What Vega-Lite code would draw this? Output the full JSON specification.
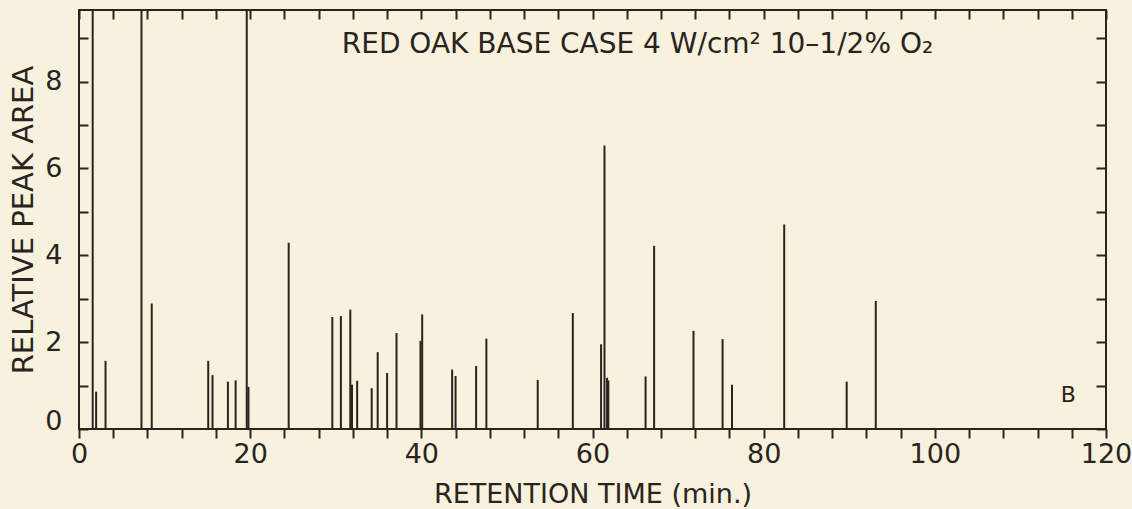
{
  "$schema": "https://vega.github.io/schema/vega-lite/v6.json",
  "width": 1027,
  "height": 419,
  "autosize": "none",
  "padding": {"left": 79, "top": 10, "right": 26, "bottom": 80},
  "background": "#f6f2dd",
  "config": {
    "font": "DejaVu Sans",
    "view": {"stroke": "#2a2320", "strokeWidth": 2},
    "axis": {
      "grid": false,
      "domain": false,
      "tickColor": "#2a2320",
      "tickWidth": 2,
      "labelColor": "#2a2320",
      "titleColor": "#2a2320",
      "titleFontWeight": "normal",
      "labelFont": "DejaVu Sans",
      "titleFont": "DejaVu Sans",
      "labelFontSize": 27,
      "titleFontSize": 27
    }
  },
  "layer": [
    {
      "data": {
        "values": [
          {"t": 1.6, "h": 12},
          {"t": 2.0, "h": 0.86},
          {"t": 3.1, "h": 1.57},
          {"t": 7.3, "h": 12},
          {"t": 8.5, "h": 2.89},
          {"t": 15.1, "h": 1.57},
          {"t": 15.6, "h": 1.24},
          {"t": 17.4, "h": 1.09},
          {"t": 18.3, "h": 1.12},
          {"t": 19.6, "h": 12},
          {"t": 19.8, "h": 0.97},
          {"t": 24.5, "h": 4.29},
          {"t": 29.6, "h": 2.58},
          {"t": 30.6, "h": 2.6},
          {"t": 31.7, "h": 2.75},
          {"t": 31.9, "h": 1.02},
          {"t": 32.5, "h": 1.11},
          {"t": 34.2, "h": 0.94},
          {"t": 34.9, "h": 1.77},
          {"t": 36.0, "h": 1.29},
          {"t": 37.1, "h": 2.21},
          {"t": 39.9, "h": 2.03},
          {"t": 40.1, "h": 2.64},
          {"t": 43.6, "h": 1.37},
          {"t": 44.0, "h": 1.22},
          {"t": 46.4, "h": 1.45},
          {"t": 47.6, "h": 2.08},
          {"t": 53.6, "h": 1.13},
          {"t": 57.7, "h": 2.67},
          {"t": 61.0, "h": 1.95},
          {"t": 61.4, "h": 6.53},
          {"t": 61.7, "h": 1.18},
          {"t": 61.85, "h": 1.12},
          {"t": 66.2, "h": 1.21},
          {"t": 67.2, "h": 4.22},
          {"t": 71.8, "h": 2.26},
          {"t": 75.2, "h": 2.07},
          {"t": 76.3, "h": 1.02},
          {"t": 82.4, "h": 4.71},
          {"t": 89.7, "h": 1.09},
          {"t": 93.1, "h": 2.95}
        ]
      },
      "mark": {"type": "rule", "strokeWidth": 2, "color": "#2a2320"},
      "encoding": {
        "x": {
          "field": "t",
          "type": "quantitative",
          "scale": {"domain": [0, 120], "nice": false, "zero": false},
          "axis": {
            "orient": "bottom",
            "values": [0, 4, 8, 12, 16, 20, 24, 28, 32, 36, 40, 44, 48, 52, 56, 60, 64, 68, 72, 76, 80, 84, 88, 92, 96, 100, 104, 108, 112, 116, 120],
            "labelExpr": "datum.value % 20 == 0 ? datum.label : ''",
            "tickSize": 9,
            "labelPadding": 3,
            "labelFlush": false,
            "labelOverlap": false,
            "title": "RETENTION TIME (min.)",
            "titlePadding": 14
          }
        },
        "y": {
          "field": "h",
          "type": "quantitative",
          "scale": {"domain": [0, 9.65], "nice": false, "clamp": true},
          "axis": {
            "orient": "left",
            "values": [0, 1, 2, 3, 4, 5, 6, 7, 8, 9],
            "labelExpr": "datum.value % 2 == 0 ? datum.label : ''",
            "tickSize": -9,
            "labelPadding": 26,
            "labelFlush": true,
            "labelFlushOffset": 6,
            "labelOverlap": false,
            "title": "RELATIVE PEAK AREA",
            "titleFontSize": 29,
            "titlePadding": 6
          }
        },
        "y2": {"datum": 0}
      }
    },
    {
      "data": {"values": [{"t": 30.7, "v": 8.66, "s": "RED OAK BASE CASE 4 W/cm² 10–1/2% O₂"}]},
      "mark": {"type": "text", "align": "left", "baseline": "alphabetic", "fontSize": 28, "color": "#2a2320", "font": "DejaVu Sans"},
      "encoding": {
        "x": {
          "field": "t",
          "type": "quantitative",
          "axis": {
            "orient": "top",
            "values": [0, 4, 8, 12, 16, 20, 24, 28, 32, 36, 40, 44, 48, 52, 56, 60, 64, 68, 72, 76, 80, 84, 88, 92, 96, 100, 104, 108, 112, 116, 120],
            "labels": false,
            "tickSize": -9,
            "title": null
          }
        },
        "y": {
          "field": "v",
          "type": "quantitative",
          "axis": {
            "orient": "right",
            "values": [0, 1, 2, 3, 4, 5, 6, 7, 8, 9],
            "labels": false,
            "tickSize": -10,
            "title": null
          }
        },
        "text": {"field": "s"}
      }
    },
    {
      "data": {"values": [{"t": 115.6, "v": 0.63, "s": "B"}]},
      "mark": {"type": "text", "align": "center", "baseline": "alphabetic", "fontSize": 22, "fontWeight": 500, "color": "#2a2320", "font": "DejaVu Sans"},
      "encoding": {
        "x": {"field": "t", "type": "quantitative", "axis": null},
        "y": {"field": "v", "type": "quantitative", "axis": null},
        "text": {"field": "s"}
      }
    }
  ],
  "resolve": {"axis": {"x": "independent", "y": "independent"}}
}
